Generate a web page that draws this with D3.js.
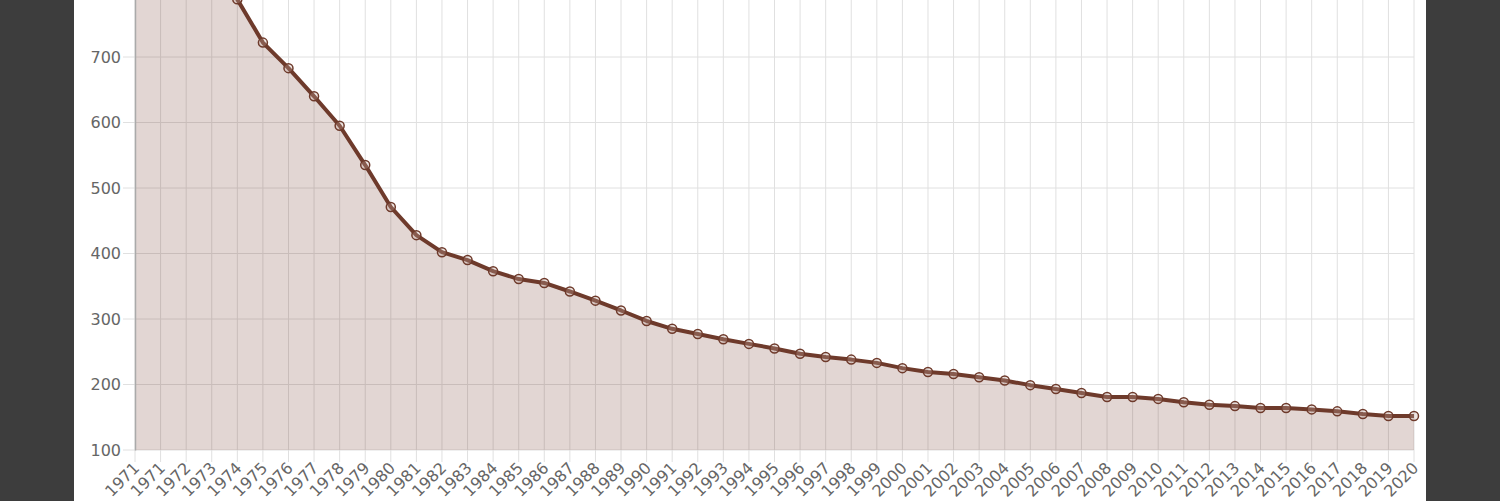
<!DOCTYPE html>
<html>
<head>
<meta charset="utf-8">
<script src="https://cdn.jsdelivr.net/npm/d3@7"></script>
<style>
  html, body { margin: 0; padding: 0; background: #3d3d3d; }
  svg { display: block; }
  .tick text { fill: #666; font-family: "DejaVu Sans", sans-serif; }
</style>
</head>
<body>
<svg width="1500" height="501"></svg>
<script>
// x labels as shown on the chart (first label repeats)
const yearLabels = ['1971', '1971', '1972', '1973', '1974', '1975', '1976', '1977', '1978', '1979',
  '1980', '1981', '1982', '1983', '1984', '1985', '1986', '1987', '1988', '1989',
  '1990', '1991', '1992', '1993', '1994', '1995', '1996', '1997', '1998', '1999',
  '2000', '2001', '2002', '2003', '2004', '2005', '2006', '2007', '2008', '2009',
  '2010', '2011', '2012', '2013', '2014', '2015', '2016', '2017', '2018', '2019', '2020'];

// values (first four are above the visible area, estimated)
const values = [1100, 1040, 960, 870, 788, 722, 683, 640, 595, 535,
  471, 428, 402, 390, 373, 361, 355, 342, 328, 313,
  297, 285, 277, 269, 262, 255, 247, 242, 238, 233,
  225, 219, 216, 211, 206, 199, 193, 187, 181, 181,
  178, 173, 169, 167, 164, 164, 162, 159, 155, 152, 152];

// labelled ticks (visible ones) and grid lines
const yTicks = [100, 200, 300, 400, 500, 600, 700];
const yGrid = [100, 200, 300, 400, 500, 600, 700, 800];

const svg = d3.select('svg');
const width = +svg.attr('width');
const height = +svg.attr('height');

// white panel
svg.append('rect')
  .attr('x', 74).attr('y', 0)
  .attr('width', 1352).attr('height', height)
  .attr('fill', '#fff');

const margin = { left: 135, right: 86, bottom: 51 };
const innerRight = width - margin.right;
const bottomY = height - margin.bottom;

const data = values.map((v, i) => ({ i, v }));

const xScale = d3.scalePoint()
  .domain(d3.range(yearLabels.length))
  .range([margin.left, innerRight]);

const yScale = d3.scaleLinear()
  .domain([100, 1100])
  .range([bottomY, bottomY - 10 * 65.5]);

const g = svg.append('g');

// horizontal grid
g.append('g')
  .selectAll('line')
  .data(yGrid)
  .enter().append('line')
  .attr('x1', margin.left - 12)
  .attr('x2', innerRight)
  .attr('y1', d => yScale(d))
  .attr('y2', d => yScale(d))
  .attr('stroke', '#e0e0e0')
  .attr('stroke-width', 1);

// vertical grid
g.append('g')
  .selectAll('line')
  .data(d3.range(yearLabels.length))
  .enter().append('line')
  .attr('x1', d => xScale(d))
  .attr('x2', d => xScale(d))
  .attr('y1', 0)
  .attr('y2', bottomY + 12)
  .attr('stroke', '#e0e0e0')
  .attr('stroke-width', 1);

// area
const area = d3.area()
  .x(d => xScale(d.i))
  .y0(bottomY)
  .y1(d => yScale(d.v));

g.append('path')
  .datum(data)
  .attr('d', area)
  .attr('fill', 'rgba(110, 50, 35, 0.2)');

// y axis
const yAxis = d3.axisLeft(yScale)
  .tickValues(yTicks)
  .tickSize(0)
  .tickPadding(14);

const yAxisG = g.append('g')
  .attr('transform', `translate(${margin.left},0)`)
  .call(yAxis);
yAxisG.select('.domain')
  .attr('stroke', '#aaa')
  .attr('stroke-width', 1.5);
yAxisG.selectAll('.tick text').attr('font-size', 16);

// x axis labels
const xAxis = d3.axisBottom(xScale)
  .tickFormat(i => yearLabels[i])
  .tickSize(0)
  .tickPadding(0);

const xAxisG = g.append('g')
  .attr('transform', `translate(0,${bottomY})`)
  .call(xAxis);
xAxisG.select('.domain').remove();
xAxisG.selectAll('.tick text')
  .attr('font-size', 16)
  .attr('text-anchor', 'end')
  .attr('dy', 0)
  .attr('transform', 'translate(5,19) rotate(-45)');

// line
const line = d3.line()
  .x(d => xScale(d.i))
  .y(d => yScale(d.v));

g.append('path')
  .datum(data)
  .attr('d', line)
  .attr('fill', 'none')
  .attr('stroke', '#6e3a2b')
  .attr('stroke-width', 4)
  .attr('stroke-linejoin', 'round');

// markers
g.append('g')
  .selectAll('circle')
  .data(data)
  .enter().append('circle')
  .attr('cx', d => xScale(d.i))
  .attr('cy', d => yScale(d.v))
  .attr('r', 4.5)
  .attr('fill', 'rgba(200, 170, 160, 0.3)')
  .attr('stroke', '#6e3a2b')
  .attr('stroke-width', 1.5);
</script>
</body>
</html>
